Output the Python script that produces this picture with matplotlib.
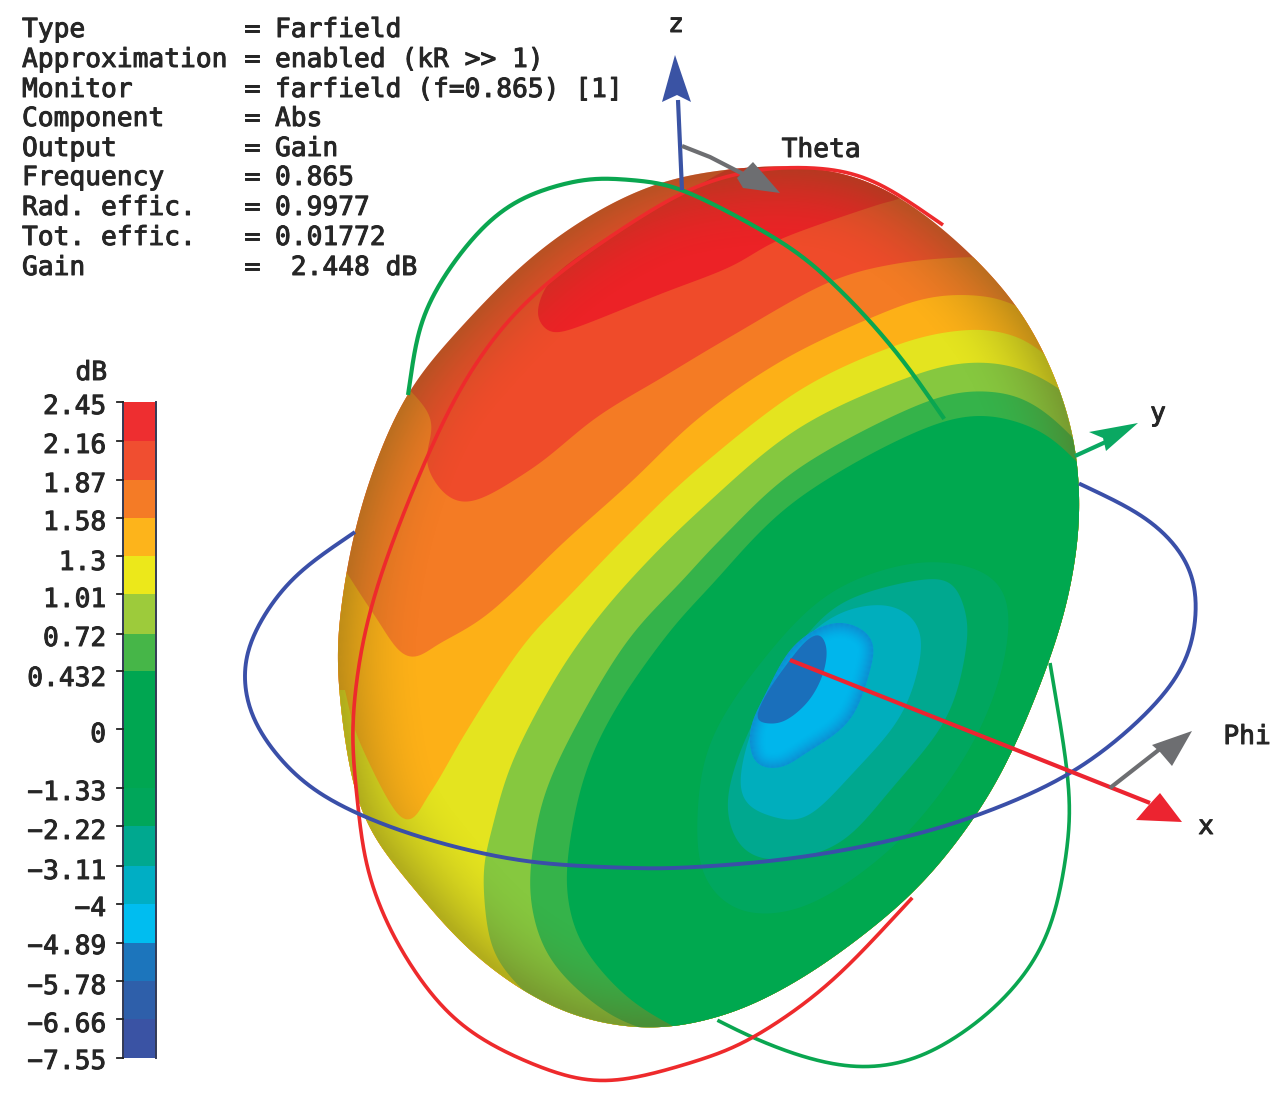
import numpy as np
import matplotlib
matplotlib.use("Agg")
import matplotlib.pyplot as plt
import matplotlib.patheffects as pe
from matplotlib.path import Path
from matplotlib.patches import PathPatch, Polygon

# ---------- text ----------
info_names = ["Type", "Approximation", "Monitor", "Component", "Output",
              "Frequency", "Rad. effic.", "Tot. effic.", "Gain"]
info_values = ["Farfield", "enabled (kR >> 1)", "farfield (f=0.865) [1]", "Abs", "Gain",
               "0.865", "0.9977", "0.01772", " 2.448 dB"]
info_rows = [30, 60, 90, 119, 149, 178, 208, 238, 268]

# ---------- colour scale ----------
scale_labels = ["2.45", "2.16", "1.87", "1.58", "1.3", "1.01", "0.72", "0.432", "0",
                "-1.33", "-2.22", "-3.11", "-4", "-4.89", "-5.78", "-6.66", "-7.55"]
scale_colors = ["#ee2e30", "#f04e30", "#f47b26", "#fdb41b", "#ece81a", "#9dcb3b", "#46b648", "#00a651",
                "#00a651", "#00a65a", "#00a88f", "#00aec4", "#00bdf0", "#1c75bc", "#2e5faa", "#3a53a4"]
scale_rows = [402, 441, 480, 518, 556, 594, 634, 671, 729, 788, 826, 866, 904, 943, 981, 1019, 1058]
scale_label_rows = [407, 446, 485, 523, 563, 600, 639, 679, 735, 793, 832, 872, 909, 947, 987, 1025, 1062]

# ---------- pattern shape ----------
outline = [(793, 166), (867, 180), (942, 228), (1020, 310), (1067, 410), (1080, 500), (1072, 580),
           (1052, 653), (1013, 750), (973, 820), (913, 893), (830, 960), (763, 1000), (713, 1019),
           (647, 1029), (563, 1012), (480, 960), (411, 885), (360, 810), (338, 680), (342, 600),
           (363, 500), (405, 397), (463, 325), (530, 258), (597, 211), (663, 181), (730, 169)]

lobe_red = [(537, 310), (557, 273), (630, 223), (690, 190), (760, 160), (900, 160), (905, 197),
            (883, 203), (783, 238), (730, 267), (663, 293), (563, 332), (543, 327)]

edge_orange = [(405, 385), (432, 420), (427, 467), (463, 503), (530, 470), (597, 417), (663, 377),
               (730, 337), (827, 283), (900, 263), (977, 257), (1010, 262)]
edge_amber = [(345, 570), (373, 613), (407, 658), (440, 643), (480, 620), (515, 590), (563, 543),
              (630, 483), (700, 417), (783, 360), (873, 317), (933, 297), (990, 297), (1030, 312)]
edge_yellow = [(345, 690), (360, 743), (403, 820), (430, 793), (463, 737), (497, 683), (530, 637),
               (570, 595), (630, 533), (700, 467), (800, 390), (897, 345), (967, 330), (1017, 337), (1055, 362)]
edge_lime = [(560, 1025), (510, 977), (490, 943), (483, 873), (490, 837), (510, 767), (547, 693),
             (583, 637), (630, 580), (700, 510), (800, 427), (920, 373), (983, 362), (1033, 373), (1075, 400)]
edge_mid = [(647, 1030), (613, 1017), (570, 983), (543, 947), (530, 897), (533, 847), (547, 787),
            (583, 713), (630, 637), (683, 580), (720, 540), (800, 467), (930, 400), (1000, 392),
            (1043, 410), (1085, 450)]
edge_green = [(680, 1030), (630, 1000), (587, 953), (570, 913), (567, 863), (583, 780), (613, 713),
              (663, 640), (707, 590), (800, 497), (947, 420), (1033, 427), (1085, 470)]

null_a = [(913, 563), (980, 570), (1008, 603), (1000, 677), (963, 760), (897, 843), (813, 903),
          (747, 913), (707, 883), (697, 827), (710, 743), (763, 660), (830, 593)]
null_b = [(940, 578), (963, 603), (967, 643), (947, 717), (893, 787), (840, 843), (780, 860),
          (743, 850), (727, 810), (737, 760), (763, 703), (797, 647), (847, 600)]
null_c = [(887, 605), (917, 623), (920, 660), (900, 717), (853, 773), (807, 817), (773, 817),
          (743, 800), (743, 760), (763, 703), (797, 647), (840, 613)]
null_d = [(847, 623), (871, 637), (872, 663), (850, 720), (803, 755), (780, 768), (755, 763),
          (750, 730), (766, 693), (790, 650), (820, 627)]
null_e = [(820, 634), (827, 650), (822, 677), (807, 703), (783, 722), (763, 723), (756, 718),
          (767, 693), (790, 660), (807, 640)]

# ---------- rings ----------
blue_ring = [(355, 532), (290, 580), (250, 640), (243, 680), (255, 725), (300, 780), (360, 815),
             (440, 843), (530, 862), (630, 868), (680, 868), (780, 860), (880, 843), (973, 817),
             (1068, 775), (1140, 720), (1185, 665), (1197, 610), (1190, 565), (1150, 520), (1078, 483)]
red_ring = [(943, 225), (867, 177), (797, 167), (730, 175), (663, 203), (547, 283), (480, 357),
            (427, 457), (373, 600), (353, 713), (357, 797), (370, 880), (407, 960), (463, 1027),
            (547, 1070), (610, 1082), (700, 1060), (753, 1038), (830, 983), (913, 897)]
green_top = [(408, 395), (423, 317), (463, 250), (513, 203), (580, 180), (630, 180), (683, 190),
             (783, 243), (840, 290), (897, 353), (945, 420)]
green_low = [(1050, 663), (1068, 777), (1068, 843), (1047, 937), (1000, 1003), (930, 1053),
             (870, 1068), (813, 1060), (753, 1038), (717, 1020)]

# ---------- axes arrows ----------
z_shaft = [(682, 190), (678, 100)]
z_head = [(675, 55), (691, 102), (677, 95), (662, 102)]
theta_shaft = [(682, 146), (710, 157), (745, 175)]
theta_head = [(737, 178), (753, 162), (780, 193), (743, 188)]
y_shaft = [(1075, 456), (1110, 440)]
y_head = [(1138, 423), (1106, 451), (1103, 438), (1089, 432)]
x_shaft = [(790, 660), (1150, 803)]
x_head = [(1182, 822), (1136, 820), (1148, 806), (1160, 793)]
phi_shaft = [(1110, 788), (1165, 745)]
phi_head = [(1192, 731), (1172, 766), (1160, 752), (1152, 745)]
axis_labels = [("z", 676, 25), ("Theta", 821, 150), ("y", 1158, 414), ("Phi", 1247, 737), ("x", 1206, 827)]


def trace(pts, sigma, closed=False):
    """Hand-traced points -> an even, smooth polyline (removes tracing jitter)."""
    p = np.array(pts, float)
    n = len(p)
    dense = []
    for i in range(n if closed else n - 1):
        p0 = p[(i - 1) % n] if (closed or i > 0) else p[i]
        p1, p2 = p[i], p[(i + 1) % n]
        p3 = p[(i + 2) % n] if (closed or i + 2 < n) else p2
        for t in np.linspace(0, 1, 16, endpoint=False):
            dense.append(0.5 * (2 * p1 + (p2 - p0) * t + (2 * p0 - 5 * p1 + 4 * p2 - p3) * t ** 2
                                + (3 * p1 - p0 - 3 * p2 + p3) * t ** 3))
    dense.append(p[0] if closed else p[-1])
    q = np.array(dense)
    seg = np.r_[0, np.cumsum(np.hypot(*np.diff(q, axis=0).T))]
    s = np.arange(0, seg[-1], 2.0)
    x, y = np.interp(s, seg, q[:, 0]), np.interp(s, seg, q[:, 1])
    h = int(4 * sigma / 2.0)
    k = np.exp(-0.5 * (np.arange(-h, h + 1) * 2.0 / sigma) ** 2)
    k /= k.sum()
    def filt(v):
        if closed:
            pad = np.r_[v[-h:], v, v[:h]]
        else:
            pad = np.r_[2 * v[0] - v[h:0:-1], v, 2 * v[-1] - v[-2:-h - 2:-1]]
        return np.convolve(pad, k, mode="valid")
    return np.c_[filt(x), filt(y)]


def region(poly, tail=()):
    v = np.vstack([poly, np.array(tail, float).reshape(-1, 2), poly[:1]])
    return Path(v, closed=True)


def line(poly):
    return Path(poly)


def rim_alpha(poly, gx, gy, width, power, peak):
    best = np.full(gx.shape, 1e9)
    for pt in poly[::3]:
        best = np.minimum(best, np.hypot(gx - pt[0], gy - pt[1]))
    return np.clip(1 - best / width, 0, 1) ** power * peak


fig = plt.figure(figsize=(12.8, 11.07), dpi=100, facecolor="white")
ax = fig.add_axes([0, 0, 1, 1])
ax.set_xlim(0, 1280)
ax.set_ylim(1107, 0)
ax.axis("off")

mono = "DejaVu Sans Mono"
TXT = "#262626"
thick = [pe.withStroke(linewidth=0.7, foreground=TXT)]
def label(x, y, s, ha="left", **kw):
    return ax.text(x, y, s, family=mono, fontsize=18.9, color=TXT, va="center", ha=ha,
                   path_effects=thick, zorder=23, **kw)

for name, val, row in zip(info_names, info_values, info_rows):
    label(22, row, name)
    label(244, row, "=")
    label(275, row, val)

# colour scale
for i, c in enumerate(scale_colors):
    ax.bar(139, scale_rows[i + 1] - scale_rows[i], width=33, bottom=scale_rows[i], color=c, linewidth=0, zorder=2)
ax.plot([122.5, 122.5], [scale_rows[0], scale_rows[-1]], color="#333a55", lw=1.4, zorder=3)
ax.plot([155.5, 155.5], [scale_rows[0], scale_rows[-1]], color="#333a55", lw=1.4, zorder=3)
for lab, r, lr in zip(scale_labels, scale_rows, scale_label_rows):
    ax.plot([117, 123], [r, r], color="#222222", lw=1.3, zorder=3)
    label(106, lr, lab.replace("-", "\u2212"), ha="right")
label(107, 373, "dB", ha="right")

RED, GREEN, BLUE = "#ee2a2c", "#0aa650", "#3a4fa8"

# pattern body
body_poly = trace(outline, 26, closed=True)
body = PathPatch(region(body_poly), fc="#ef4b2a", ec="none", zorder=4)
ax.add_patch(body)

def band(path, color, z):
    patch = PathPatch(path, fc=color, ec="none", zorder=z)
    ax.add_patch(patch)
    patch.set_clip_path(body)
    return patch

band(region(trace(lobe_red, 9, closed=True)), "#ec2226", 5)
band(region(trace(edge_orange, 9), [(1200, 262), (1200, 1107), (250, 1107), (250, 385)]), "#f47b24", 6)
band(region(trace(edge_amber, 9), [(1200, 312), (1200, 1107), (250, 1107), (250, 570)]), "#fdb017", 7)
band(region(trace(edge_yellow, 7), [(1200, 362), (1200, 1107), (250, 1107), (250, 690)]), "#e4e41f", 8)
band(region(trace(edge_lime, 16), [(1200, 400), (1200, 1107), (560, 1107)]), "#86c83f", 9)
band(region(trace(edge_mid, 16), [(1200, 450), (1200, 1107), (647, 1107)]), "#35b34a", 10)

# limb shading over the warm bands
gx, gy = np.meshgrid(np.arange(320, 1100, 4.0), np.arange(150, 1040, 4.0))
shade = np.zeros(gx.shape + (4,))
shade[..., 0], shade[..., 1], shade[..., 2] = 0.40, 0.36, 0.10
shade[..., 3] = rim_alpha(body_poly, gx, gy, 85, 1.9, 0.42)
im = ax.imshow(shade, extent=(318, 1098, 1038, 148), aspect="auto", interpolation="bilinear", zorder=10.5)
im.set_clip_path(body)

band(region(trace(edge_green, 16), [(1200, 470), (1200, 1107), (680, 1107)]), "#00a84f", 11)
band(region(trace(null_a, 14, closed=True)), "#00a75f", 12)
band(region(trace(null_b, 12, closed=True)), "#00a88f", 13)
band(region(trace(null_c, 10, closed=True)), "#00aebd", 14)
sky_poly = trace(null_d, 8, closed=True)
sky = band(region(sky_poly), "#00b6ec", 15)
gx2, gy2 = np.meshgrid(np.arange(740, 885, 2.0), np.arange(615, 780, 2.0))
tint = np.zeros(gx2.shape + (4,))
tint[..., 0], tint[..., 1], tint[..., 2] = 0.10, 0.40, 0.72
tint[..., 3] = rim_alpha(sky_poly, gx2, gy2, 16, 1.5, 0.55)
im2 = ax.imshow(tint, extent=(739, 885, 781, 614), aspect="auto", interpolation="bilinear", zorder=15.5)
im2.set_clip_path(sky)
band(region(trace(null_e, 6, closed=True)), "#1a6fbb", 16)
ax.set_xlim(0, 1280)
ax.set_ylim(1107, 0)

# rings
ax.add_patch(PathPatch(line(trace(blue_ring, 22)), fc="none", ec=BLUE, lw=2.8, zorder=20))
ax.add_patch(PathPatch(line(trace(red_ring, 22)), fc="none", ec=RED, lw=2.6, zorder=19))
ax.add_patch(PathPatch(line(trace(green_top, 16)), fc="none", ec=GREEN, lw=3, zorder=20))
ax.add_patch(PathPatch(line(trace(green_low, 22)), fc="none", ec=GREEN, lw=2.6, zorder=18))

# axes arrows
for shaft, head, col in [(z_shaft, z_head, "#3a53a4"), (theta_shaft, theta_head, "#6d6e71"),
                         (y_shaft, y_head, "#0aa862"), (x_shaft, x_head, "#ec2430"),
                         (phi_shaft, phi_head, "#6d6e71")]:
    xs, ys = zip(*shaft)
    ax.plot(xs, ys, color=col, lw=3, zorder=21, solid_capstyle="butt")
    ax.add_patch(Polygon(head, closed=True, fc=col, ec="none", zorder=22))
for lab, x, y in axis_labels:
    label(x, y, lab, ha="center")

fig.savefig("out.png", dpi=100, facecolor="white")
